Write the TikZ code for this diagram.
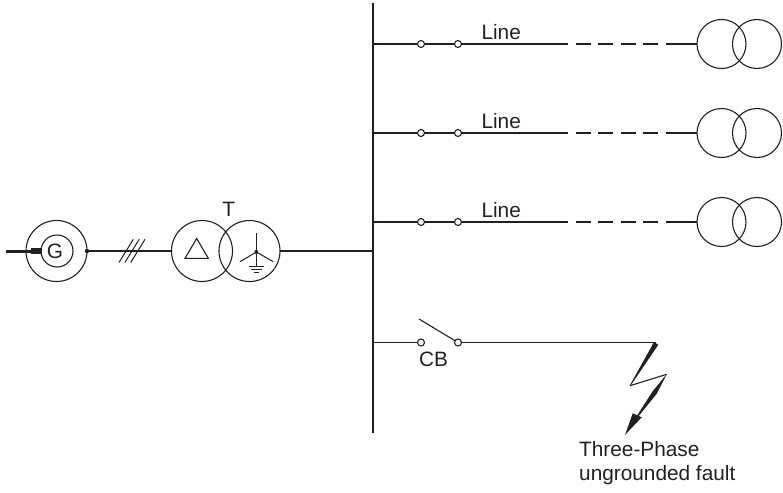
\documentclass[tikz,border=0pt]{standalone}
\usepackage{fontspec}
\setmainfont{Liberation Sans}
\definecolor{ink}{HTML}{231F20}
\tikzset{
 wire/.style={draw=ink,line width=1.15pt},
 bus/.style={draw=ink,line width=1.4pt},
 coil/.style={circle,draw=ink,line width=1.1pt,minimum size=#1,inner sep=0pt,outer sep=0pt},
 contact/.style={circle,draw=ink,fill=white,line width=1.1pt,minimum size=7pt,inner sep=0pt,outer sep=0pt},
 lab/.style={text=ink,font=\fontsize{20.8}{24}\selectfont,inner sep=0pt},
 dot/.style={circle,fill=ink,minimum size=4.5pt,inner sep=0pt,outer sep=0pt}
}
\begin{document}
\begin{tikzpicture}[x=1pt,y=-1pt]
\useasboundingbox (0,0) rectangle (783,492);
% bus
\coordinate (bt) at (373,3);
\coordinate (bb) at (373,433);
\draw[bus] (bt) -- (bb);
% feeders
\foreach \n/\y in {a/44,b/133,c/222}{
  \coordinate (j\n) at (373,\y);
  \node[coil=49pt] (p\n) at (721.5,\y) {};
  \node[coil=49pt] (s\n) at (757,\y) {};
  \node[contact] (k\n) at (421,\y) {};
  \node[contact] (m\n) at (458,\y) {};
  \coordinate (d\n) at (568.3,\y);
  \coordinate (e\n) at (666.7,\y);
  \draw[wire] (j\n) -- (k\n);
  \draw[wire] (k\n) -- (m\n);
  \draw[wire] (m\n) -- (d\n);
  \draw[wire,dash pattern=on 15pt off 7.5pt,dash phase=15pt] (d\n) -- (e\n);
  \draw[wire] (e\n) -- (p\n.west);
  \node[lab,anchor=base west] (l\n) at (481.3,\y-4.7) {Line};
}
% generator
\node[coil=61pt] (go) at (56.5,251) {};
\node[coil=32pt] (gi) at (57,251) {};
\node[lab] (gl) at (55,251) {G};
\coordinate (gs) at (6,251);
\draw[draw=ink,line width=3pt] (gs) -- (gi.west);
\fill[ink] (31,247.7) rectangle (41.5,254.3);
\node[dot] (gd) at (87,251) {};
% transformer
\node[coil=61pt] (tl) at (202,251) {};
\node[coil=61pt] (tr) at (249.5,251) {};
\draw[wire] (gd) -- (tl);
\draw[wire] (tr) -- (373,251);
\node[lab,anchor=base] (tt) at (228.7,216) {T};
\foreach \dx in {0,5.9,11.7}
  \draw[draw=ink,line width=1pt] ({119+\dx},262.5) -- ({133.3+\dx},239.3);
\draw[draw=ink,line width=1.1pt,line join=miter] (196.7,238.5) -- (185,258.3) -- (208.3,258.3) -- cycle;
\node[dot,minimum size=4pt] (w) at (256.3,252) {};
\draw[draw=ink,line width=1pt] (w) -- (256.3,233.3);
\draw[draw=ink,line width=1pt] (w) -- (240,261.7);
\draw[draw=ink,line width=1pt] (w) -- (273.3,261.7);
\draw[draw=ink,line width=1pt] (w) -- (256.3,266.7);
\draw[draw=ink,line width=1pt] (249,266.7) -- (263.7,266.7);
\draw[draw=ink,line width=1pt] (251,269.7) -- (261.7,269.7);
\draw[draw=ink,line width=1pt] (254,272.7) -- (259,272.7);
% CB
\coordinate (jd) at (373,342.5);
\node[contact] (cb1) at (421,342.5) {};
\node[contact] (cb2) at (458,342.5) {};
\coordinate (cbt) at (419,319);
\coordinate (f) at (656.3,342.5);
\draw[wire] (jd) -- (cb1);
\draw[wire] (cb2) -- (f);
\draw[draw=ink,line width=1.1pt] (cbt) -- (cb2);
\node[lab,anchor=base west] (cbl) at (419,366) {CB};
% fault
\fill[ink] (654,342) -- (658.3,344.8) -- (630.3,386) -- (629.7,385.7) -- cycle;
\draw[draw=ink,line width=1.1pt] (630,385.7) -- (666.7,374.3);
\fill[ink] (667,373.8) -- (656.5,394) -- (637.5,417.5) -- (636.5,416.5) -- (652.5,391.5) -- cycle;
\fill[ink] (625,435) -- (632.7,413.3) -- (641.7,417.3) -- cycle;
\node[lab,anchor=base west] (ft) at (579,456.7) {Three-Phase};
\node[lab,anchor=base west] (ft2) at (579,480) {ungrounded fault};
\end{tikzpicture}
\end{document}
